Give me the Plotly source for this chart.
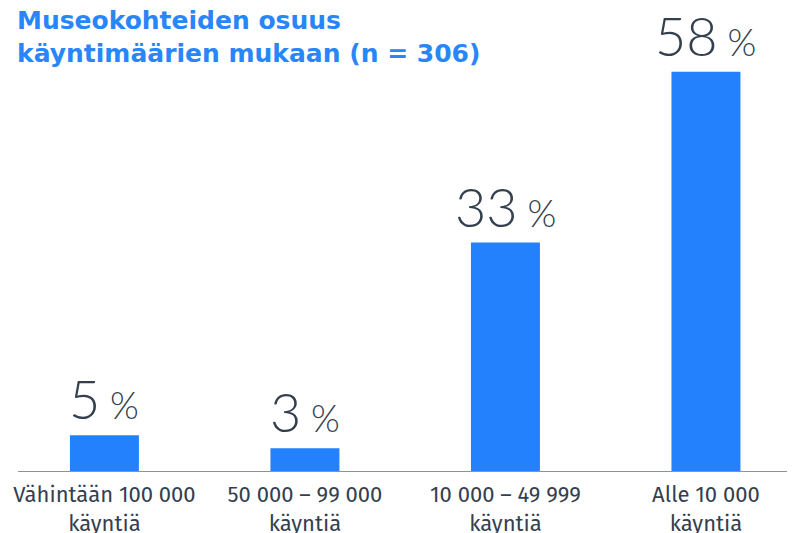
import plotly.graph_objects as go

categories = ["Vähintään 100 000<br>käyntiä", "50 000 – 99 000<br>käyntiä",
              "10 000 – 49 999<br>käyntiä", "Alle 10 000<br>käyntiä"]
values = [5.2, 3.3, 33.3, 58.2]
labels = ["5", "3", "33", "58"]

title_text = "Museokohteiden osuus<br>käyntimäärien mukaan (n = 306)"

BAR = "#2381FE"
TXT = "#34404F"

fig = go.Figure()
fig.add_trace(go.Bar(
    x=categories, y=values, width=0.344,
    marker=dict(color=BAR, line=dict(width=0)),
    hoverinfo="skip",
))

for c, v, l in zip(categories, values, labels):
    fig.add_annotation(
        x=c, y=v, xref="x", yref="y",
        text=f"{l}<span style='font-size:36px'> </span><span style='font-size:37px'>%</span>",
        showarrow=False, yanchor="bottom", yshift=2,
        font=dict(family="Lato", size=54, color=TXT, weight=300),
    )

# page is offset by the 8px body margin: plot area left at page x=18, bottom at page y=471
fig.add_annotation(
    x=(15 - 18) / 785, y=1.008, xref="paper", yref="paper",
    text=title_text, showarrow=False, xanchor="left", yanchor="top", align="left",
    font=dict(family="DejaVu Sans", size=25, color="#2986F8", weight="bold"),
)

fig.update_layout(
    width=795, height=533,
    margin=dict(l=10, r=0, t=0, b=70),
    paper_bgcolor="white", plot_bgcolor="white",
    showlegend=False,
    xaxis=dict(type="category", range=[-0.431, 3.484], showline=True, linecolor="#8C939F",
               linewidth=1, ticks="", showgrid=False, zeroline=False, ticklabelstandoff=4,
               tickfont=dict(family="Fira Sans, Open Sans", size=22, color=TXT)),
    yaxis=dict(range=[0, 67.5], visible=False, showgrid=False, zeroline=False),
)

fig.write_html("out.html")
